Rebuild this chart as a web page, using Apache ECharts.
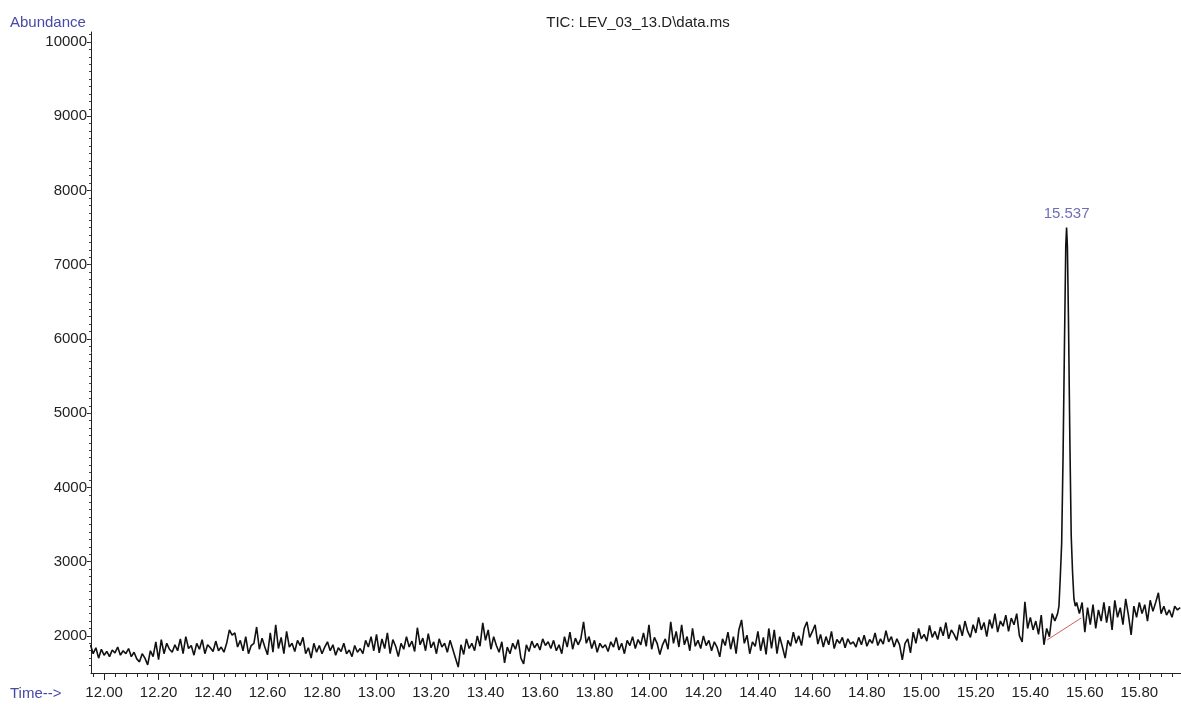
<!DOCTYPE html>
<html>
<head>
<meta charset="utf-8">
<script src="https://cdn.jsdelivr.net/npm/echarts@6/dist/echarts.min.js"></script>
<style>
html,body{margin:0;padding:0;background:#fff;}
#chart{width:1181px;height:704px;}
</style>
</head>
<body>
<div id="chart"></div>
<script>
// ---- data ----
var titleText = 'TIC: LEV_03_13.D\\data.ms';
var yAxisName = 'Abundance';
var xAxisName = 'Time-->';
var xTicks = [12.0, 12.2, 12.4, 12.6, 12.8, 13.0, 13.2, 13.4, 13.6, 13.8, 14.0, 14.2, 14.4, 14.6, 14.8, 15.0, 15.2, 15.4, 15.6, 15.8];
var yTicks = [2000, 3000, 4000, 5000, 6000, 7000, 8000, 9000, 10000];

// baseline noise before the peak, sampled every 0.01 min starting 11.95
var noiseAStart = 11.95;
var noiseA = [
  1880, 1760, 1840, 1700, 1820, 1740, 1790, 1720, 1810, 1770,
  1850, 1740, 1800, 1760, 1830, 1720, 1780, 1690, 1650, 1760,
  1700, 1610, 1800, 1720, 1920, 1680, 1950, 1760, 1900, 1820,
  1780, 1880, 1800, 1960, 1760, 1990, 1830, 1870, 1740, 1900,
  1820, 1950, 1760, 1880, 1840, 1790, 1930, 1800, 1850, 1780,
  1900, 2080, 2010, 2040, 1850, 1940, 1800, 1990, 1760, 1870,
  1900, 2120, 1820, 1970, 1850, 1745, 2040, 1780, 2150, 1830,
  1980, 1760, 2060, 1850, 1900, 1790, 1940, 1870, 1980, 1760,
  1840, 1700, 1900, 1780, 1870, 1760, 1850, 1920, 1800, 1880,
  1740, 1840, 1790, 1900, 1760, 1810, 1720, 1870, 1780, 1830,
  1760, 1940, 1850, 1990, 1800, 2020, 1770, 1960, 1830, 2040,
  1760, 1950, 1860, 1720, 1900, 1820, 1990, 1850, 1930, 1790,
  2110, 1880, 1970, 1800, 2030, 1840, 1920, 1760, 1960, 1850,
  1900, 1780, 1940, 1820, 1700, 1580, 1880, 1750, 1960, 1830,
  1900, 1800, 2000, 1860, 2175, 1940, 2080, 1820, 1990, 1870,
  1780, 1920, 1636, 1850, 1760, 1900, 1820, 1950, 1700, 1623,
  1880, 1790, 1930, 1840, 1900, 1810, 1960, 1870, 1920, 1830,
  1940, 1800, 1880, 1760, 1990, 1850, 2050, 1820, 1970, 1880,
  1960, 2190, 1900, 1990, 1830, 1940, 1780, 1900, 1840, 1880,
  1790, 1920, 1850, 1980, 1810, 1900, 1760, 1940, 1870, 1990,
  1830, 1950, 1880, 2040, 1860, 2150, 1820, 1980, 1900, 1750,
  1880, 1960, 1820, 2190, 1900, 2060, 1850, 2150, 1880, 1990,
  1800, 2100, 1860, 1940, 1830, 2000, 1870, 1940, 1800, 1920,
  1850, 1717, 1960, 1870, 2050, 1820, 1990, 1760, 2080, 2215,
  1900, 2010, 1760, 1920, 1860, 2060, 1800, 1980, 1750, 2100,
  1830, 2080, 1760, 1990, 1850, 1700, 1940, 1860, 2050, 1900,
  2000, 1870, 2100, 2190, 1980, 2060, 2150, 1890, 2020, 1850,
  1990, 1880, 2060, 1830, 1950, 1900, 1980, 1840, 1960, 1890,
  1920, 1850, 1980, 1880, 2010, 1860, 1950, 1900, 2040, 1870,
  1960, 1890, 2070, 1920, 1990, 1850, 1960, 1880, 1677, 1900,
  1960, 1770, 2050, 1900, 2100, 1960, 2020, 1930, 2140, 1980,
  2060, 1950, 2120, 2000, 2180, 1960, 2080, 2020, 1940, 2150,
  2000, 2200, 2060, 1980, 2150, 2040, 2250, 2080, 2180, 1990,
  2220, 2100, 2300, 2050, 2200, 2130, 2280, 2060, 2240, 2150,
  2300, 2000, 1920, 2460, 2100, 2250, 2080, 2200, 2020, 2280,
  1880, 2100, 1990, 2300, 2200
];

// the peak
var peakTimes  = [15.500, 15.505, 15.510, 15.515, 15.520, 15.525, 15.530, 15.533, 15.536, 15.540, 15.545, 15.550, 15.555, 15.560, 15.565, 15.570];
var peakValues = [2300, 2400, 2800, 3250, 4400, 5850, 7250, 7500, 7250, 6250, 4650, 3350, 2850, 2500, 2400, 2450];
var peakLabel = '15.537';

// baseline noise after the peak, sampled every 0.01 min starting 15.58
var noiseBStart = 15.58;
var noiseB = [
  2300, 2450, 2050, 2380, 2150, 2420, 2100, 2350, 2200, 2450,
  2180, 2400, 2080, 2480, 2250, 2380, 2150, 2500, 2280, 2013,
  2400, 2250, 2450, 2300, 2420, 2200, 2480, 2330, 2450, 2580,
  2300, 2400, 2280, 2350, 2250, 2400, 2350, 2380
];

// integration baseline (red)
var baselineTimes  = [15.462, 15.587];
var baselineValues = [1946, 2242];

// ---- build series ----
function r3(v){ return Math.round(v * 1000) / 1000; }
var trace = [];
noiseA.forEach(function(v, i){ trace.push([r3(noiseAStart + i * 0.01), v]); });
peakTimes.forEach(function(t, i){ trace.push([t, peakValues[i]]); });
noiseB.forEach(function(v, i){ trace.push([r3(noiseBStart + i * 0.01), v]); });

var apexIdx = peakValues.indexOf(Math.max.apply(null, peakValues));
var baseline = baselineTimes.map(function(t, i){ return [t, baselineValues[i]]; });

var X_MIN = 11.952, X_MAX = 15.953, Y_MIN = 1500, Y_MAX = 10135;
var xMinor = [];
for (var k = 0; k <= 100; k++) { var t = r3(11.96 + k * 0.04); if (t <= X_MAX) xMinor.push(t); }
var yMinor = [];
for (var m = 16; m <= 101; m++) { yMinor.push(m * 100); }

var FONT = '"Liberation Sans", Arial, sans-serif';
var BLUE = '#4848a8';

var chart = echarts.init(document.getElementById('chart'), null, {renderer: 'canvas'});
chart.setOption({
  animation: false,
  backgroundColor: '#ffffff',
  grid: {left: 91, right: 0, top: 32, bottom: 31, containLabel: false},
  xAxis: [{
    type: 'value', min: X_MIN, max: X_MAX, position: 'bottom',
    axisLine: {show: true, onZero: false, lineStyle: {color: '#222', width: 1}},
    axisTick: {show: true, customValues: xTicks, length: 7, inside: false, lineStyle: {color: '#222'}},
    axisLabel: {show: true, customValues: xTicks, margin: 12, color: '#222', fontSize: 15, fontFamily: FONT,
      formatter: function(v){ return v.toFixed(2); }},
    splitLine: {show: false}
  }, {
    type: 'value', min: X_MIN, max: X_MAX, position: 'bottom',
    axisLine: {show: false},
    axisTick: {show: true, customValues: xMinor, length: 4, lineStyle: {color: '#222'}},
    axisLabel: {show: false},
    splitLine: {show: false}
  }],
  yAxis: [{
    type: 'value', min: Y_MIN, max: Y_MAX, position: 'left',
    axisLine: {show: true, onZero: false, lineStyle: {color: '#222', width: 1}},
    axisTick: {show: true, customValues: yTicks, length: 4, lineStyle: {color: '#222'}},
    axisLabel: {show: true, customValues: yTicks, margin: 4, color: '#222', fontSize: 15, fontFamily: FONT,
      formatter: function(v){ return String(Math.round(v)); }},
    splitLine: {show: false}
  }, {
    type: 'value', min: Y_MIN, max: Y_MAX, position: 'left',
    axisLine: {show: false},
    axisTick: {show: true, customValues: yMinor, length: 2, lineStyle: {color: '#444'}},
    axisLabel: {show: false},
    splitLine: {show: false}
  }],
  graphic: [
    {type: 'text', x: 638, y: 23, style: {text: titleText, fill: '#222', font: '15px ' + FONT, align: 'center', verticalAlign: 'middle'}},
    {type: 'text', x: 10, y: 23, style: {text: yAxisName, fill: BLUE, font: '15px ' + FONT, align: 'left', verticalAlign: 'middle'}},
    {type: 'text', x: 10, y: 694, style: {text: xAxisName, fill: BLUE, font: '15px ' + FONT, align: 'left', verticalAlign: 'middle'}}
  ],
  series: [{
    type: 'line', name: 'baseline', data: baseline, symbol: 'none', silent: true, z: 1,
    lineStyle: {color: '#d85a5a', width: 1}
  }, {
    type: 'line', name: 'TIC', data: trace, symbol: 'none', silent: true, z: 2,
    lineStyle: {color: '#111111', width: 1.6}
  }, {
    type: 'scatter', name: 'label', data: [[peakTimes[apexIdx], peakValues[apexIdx]]], symbolSize: 0, z: 3,
    label: {show: true, position: 'top', distance: 6, formatter: peakLabel, color: BLUE, fontSize: 15, fontFamily: FONT}
  }]
});
</script>
</body>
</html>
